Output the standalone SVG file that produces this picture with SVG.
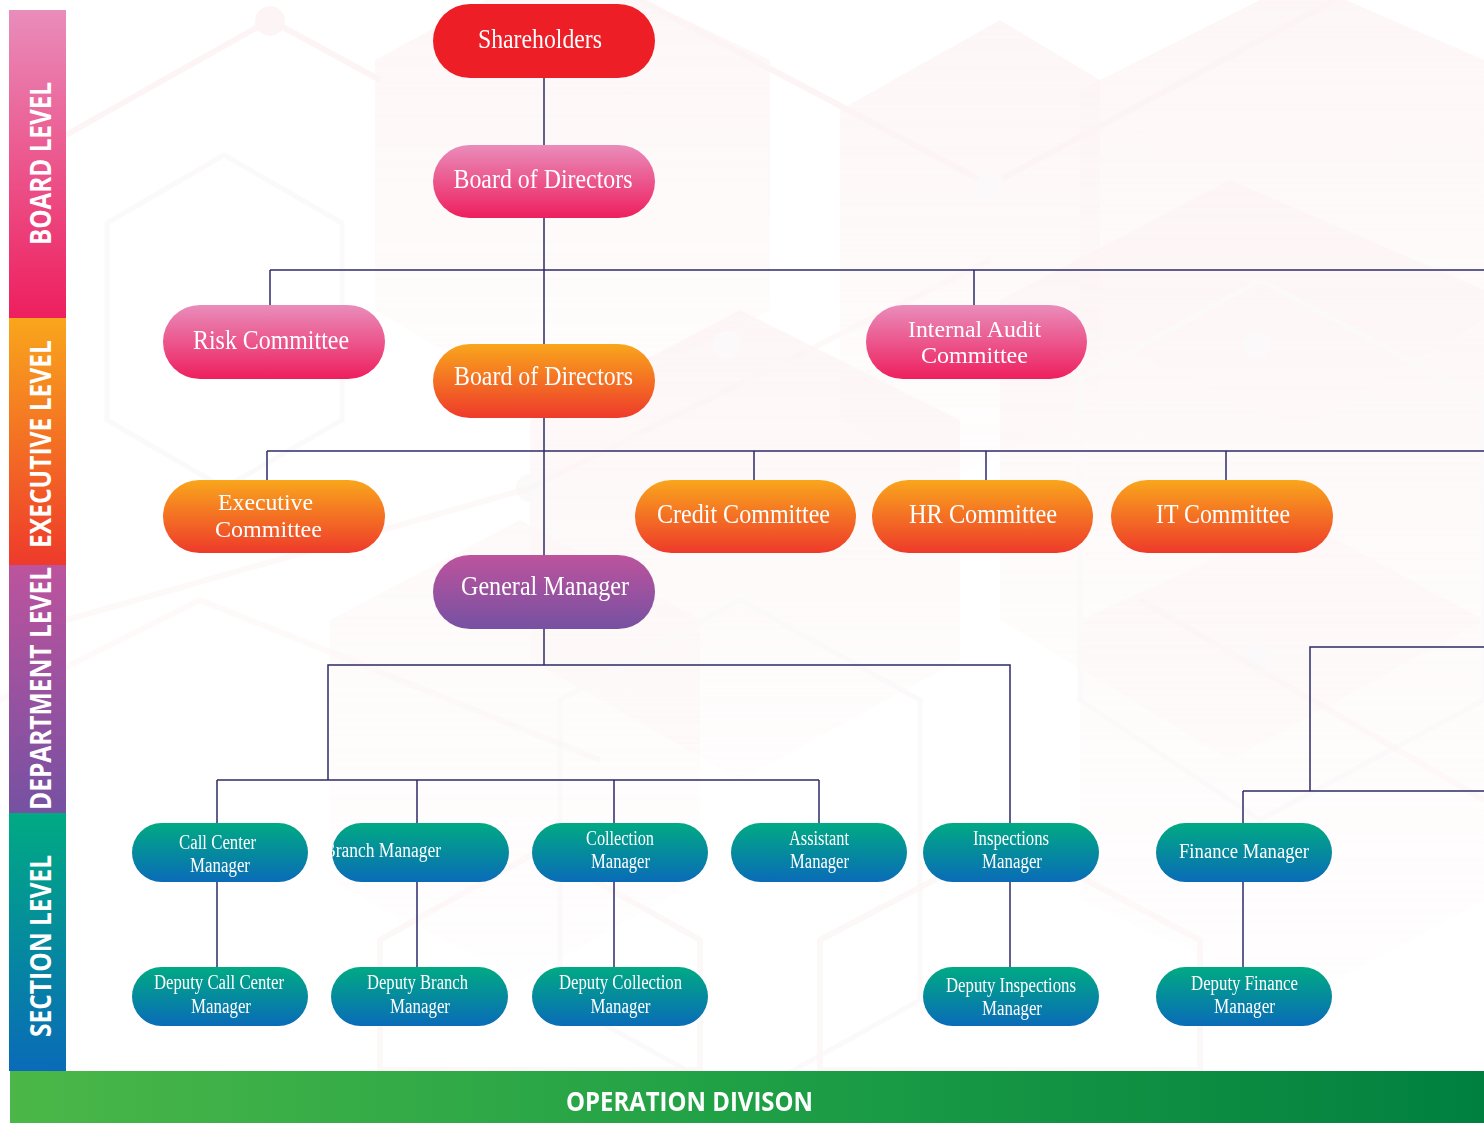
<svg xmlns="http://www.w3.org/2000/svg" width="1484" height="1123" viewBox="0 0 1484 1123">
<defs>
<linearGradient id="gPink" x1="0" y1="0" x2="0" y2="1"><stop offset="0" stop-color="#E98DBB"/><stop offset="1" stop-color="#EE1F5E"/></linearGradient>
<linearGradient id="gOrange" x1="0" y1="0" x2="0" y2="1"><stop offset="0" stop-color="#F9A61C"/><stop offset="1" stop-color="#EE3A2B"/></linearGradient>
<linearGradient id="gPurple" x1="0" y1="0" x2="0" y2="1"><stop offset="0" stop-color="#BD539D"/><stop offset="1" stop-color="#7651A2"/></linearGradient>
<linearGradient id="gTeal" x1="0" y1="0" x2="0" y2="1"><stop offset="0" stop-color="#00AA83"/><stop offset="1" stop-color="#0A6BB8"/></linearGradient>
<linearGradient id="gRed" x1="0" y1="0" x2="0" y2="1"><stop offset="0" stop-color="#EE1E26"/><stop offset="1" stop-color="#EE1E26"/></linearGradient>
<linearGradient id="gGreen" x1="0" y1="0" x2="1" y2="0"><stop offset="0" stop-color="#4BB748"/><stop offset="0.5" stop-color="#1FA046"/><stop offset="1" stop-color="#00803F"/></linearGradient>
<linearGradient id="gBgPink" x1="0" y1="0" x2="0" y2="1"><stop offset="0" stop-color="#FCEDED" stop-opacity="0.9"/><stop offset="1" stop-color="#FCEDED" stop-opacity="0.2"/></linearGradient>
<clipPath id="clipBranch"><rect x="332" y="823" width="177" height="59" rx="29.5"/></clipPath>
<style>
.conn line, .conn polyline{stroke:#2D2A6A;stroke-width:1.5;fill:none}
.t{font-family:"Liberation Serif","Times New Roman",serif;fill:#FFFFFF;text-anchor:middle}
.tl{font-size:27px}
.t2{font-size:24px}
.ts{font-size:20px}
.lvl{font-family:"Open Sans","DejaVu Sans",sans-serif;font-weight:700;fill:#FFFFFF;font-size:29px;text-anchor:middle}
.bgl{fill:none;stroke:#FBEDED;stroke-width:6}
.bgg{fill:none;stroke:#F7F5F5;stroke-width:5}
.bgf{fill:url(#gBgPink)}
</style>
</defs>

<rect x="0" y="0" width="1484" height="1123" fill="#FFFFFF"/>

<g id="background" opacity="0.55">
<polygon class="bgf" points="375,60 560,-40 770,60 770,310 560,420 375,310"/>
<polygon class="bgf" points="840,110 1000,20 1100,80 1100,400 950,480 840,420"/>
<polygon class="bgf" points="1080,90 1300,-20 1484,60 1484,320 1300,430 1080,330"/>
<polygon class="bgf" points="530,420 740,310 960,420 960,660 740,780 530,660"/>
<polygon class="bgf" points="1000,300 1230,180 1484,290 1484,620 1230,760 1000,620"/>
<polygon class="bgf" points="330,620 520,520 700,620 700,880 520,980 330,880" opacity="0.6"/>
<polygon class="bgf" points="1080,620 1300,520 1484,620 1484,900 1300,1000 1080,900" opacity="0.6"/>
<polyline class="bgl" points="66,135 270,20 380,80"/>
<circle cx="270" cy="21" r="15" fill="#FBEDED"/>
<polygon class="bgg" points="107,223 224,155 342,223 342,420 224,488 107,420"/>
<polyline class="bgl" points="640,0 990,185 1484,-80"/>
<circle cx="990" cy="185" r="14" fill="#F8F4F4"/>
<polygon class="bgg" points="560,700 740,600 920,700 920,1000 740,1100 560,1000"/>
<polygon class="bgg" points="1080,380 1260,280 1484,400 1484,700 1260,820 1080,700"/>
<circle cx="727" cy="345" r="14" fill="#F7F4F4"/>
<circle cx="1257" cy="345" r="14" fill="#F7F4F4"/>
<circle cx="1258" cy="657" r="14" fill="#F7F4F4"/>
<circle cx="530" cy="488" r="14" fill="#F8F4F4"/>
<polyline class="bgl" points="66,620 530,488 990,260" opacity="0.6"/>
<polygon class="bgl" points="380,940 540,850 700,940 700,1070 380,1070" opacity="0.7"/>
<polygon class="bgl" points="820,940 1010,840 1200,940 1200,1070 820,1070" opacity="0.7"/>
<polyline class="bgl" points="1140,600 1484,800" opacity="0.6"/>
<polyline class="bgl" points="0,700 200,600 600,760" opacity="0.5"/>
</g>

<g id="level-bar">
<rect x="9" y="10" width="57" height="308" fill="url(#gPink)"/>
<rect x="9" y="318" width="57" height="247" fill="url(#gOrange)"/>
<rect x="9" y="565" width="57" height="248" fill="url(#gPurple)"/>
<rect x="9" y="813" width="57" height="258" fill="url(#gTeal)"/>
<text class="lvl" transform="translate(51,163.5) rotate(-90)" x="0" y="0" textLength="163" lengthAdjust="spacingAndGlyphs">BOARD LEVEL</text>
<text class="lvl" transform="translate(51,444) rotate(-90)" x="0" y="0" textLength="208" lengthAdjust="spacingAndGlyphs">EXECUTIVE LEVEL</text>
<text class="lvl" transform="translate(51,688.5) rotate(-90)" x="0" y="0" textLength="243" lengthAdjust="spacingAndGlyphs">DEPARTMENT LEVEL</text>
<text class="lvl" transform="translate(51,946) rotate(-90)" x="0" y="0" textLength="182" lengthAdjust="spacingAndGlyphs">SECTION LEVEL</text>
</g>

<g id="operation-bar">
<rect x="10" y="1071" width="1474" height="52" fill="url(#gGreen)"/>
<text class="lvl" x="689.5" y="1111" style="font-size:27px" textLength="247" lengthAdjust="spacingAndGlyphs">OPERATION DIVISON</text>
</g>

<g id="connectors" class="conn">
<line x1="544" y1="78" x2="544" y2="145"/>
<line x1="544" y1="218" x2="544" y2="344"/>
<line x1="270" y1="270" x2="1484" y2="270"/>
<line x1="270" y1="270" x2="270" y2="305"/>
<line x1="974" y1="270" x2="974" y2="305"/>
<line x1="544" y1="418" x2="544" y2="555"/>
<line x1="267" y1="451" x2="1484" y2="451"/>
<line x1="267" y1="451" x2="267" y2="480"/>
<line x1="754" y1="451" x2="754" y2="480"/>
<line x1="986" y1="451" x2="986" y2="480"/>
<line x1="1226" y1="451" x2="1226" y2="480"/>
<line x1="544" y1="629" x2="544" y2="665"/>
<polyline points="328,780 328,665 1010,665 1010,823"/>
<line x1="217" y1="780" x2="819" y2="780"/>
<line x1="217" y1="780" x2="217" y2="823"/>
<line x1="417" y1="780" x2="417" y2="823"/>
<line x1="614" y1="780" x2="614" y2="823"/>
<line x1="819" y1="780" x2="819" y2="823"/>
<line x1="217" y1="882" x2="217" y2="967"/>
<line x1="417" y1="882" x2="417" y2="967"/>
<line x1="614" y1="882" x2="614" y2="967"/>
<line x1="1010" y1="882" x2="1010" y2="967"/>
<polyline points="1484,647 1310,647 1310,791"/>
<line x1="1243" y1="791" x2="1484" y2="791"/>
<line x1="1243" y1="791" x2="1243" y2="823"/>
<line x1="1243" y1="882" x2="1243" y2="967"/>
</g>

<g id="node-shareholders">
<rect x="433" y="4" width="222" height="74" rx="37" fill="url(#gRed)"/>
<text class="t tl" x="540" y="48" textLength="124" lengthAdjust="spacingAndGlyphs">Shareholders</text>
</g>
<g id="node-board-of-directors-1">
<rect x="433" y="145" width="222" height="73" rx="36.5" fill="url(#gPink)"/>
<text class="t tl" x="543" y="188" textLength="179" lengthAdjust="spacingAndGlyphs">Board of Directors</text>
</g>
<g id="node-risk-committee">
<rect x="163" y="305" width="222" height="74" rx="37" fill="url(#gPink)"/>
<text class="t tl" x="271" y="349" textLength="156" lengthAdjust="spacingAndGlyphs">Risk Committee</text>
</g>
<g id="node-internal-audit-committee">
<rect x="866" y="305" width="221" height="74" rx="37" fill="url(#gPink)"/>
<text class="t t2" x="974.5" y="337" textLength="133" lengthAdjust="spacingAndGlyphs">Internal Audit</text>
<text class="t t2" x="974.5" y="363" textLength="107" lengthAdjust="spacingAndGlyphs">Committee</text>
</g>
<g id="node-board-of-directors-2">
<rect x="433" y="344" width="222" height="74" rx="37" fill="url(#gOrange)"/>
<text class="t tl" x="543.5" y="385" textLength="179" lengthAdjust="spacingAndGlyphs">Board of Directors</text>
</g>
<g id="node-executive-committee">
<rect x="163" y="480" width="222" height="73" rx="36.5" fill="url(#gOrange)"/>
<text class="t t2" x="265.5" y="510" textLength="95" lengthAdjust="spacingAndGlyphs">Executive</text>
<text class="t t2" x="268.5" y="537" textLength="107" lengthAdjust="spacingAndGlyphs">Committee</text>
</g>
<g id="node-credit-committee">
<rect x="635" y="480" width="221" height="73" rx="36.5" fill="url(#gOrange)"/>
<text class="t tl" x="743.5" y="523" textLength="173" lengthAdjust="spacingAndGlyphs">Credit Committee</text>
</g>
<g id="node-hr-committee">
<rect x="872" y="480" width="221" height="73" rx="36.5" fill="url(#gOrange)"/>
<text class="t tl" x="983" y="523" textLength="148" lengthAdjust="spacingAndGlyphs">HR Committee</text>
</g>
<g id="node-it-committee">
<rect x="1111" y="480" width="222" height="73" rx="36.5" fill="url(#gOrange)"/>
<text class="t tl" x="1223" y="523" textLength="134" lengthAdjust="spacingAndGlyphs">IT Committee</text>
</g>
<g id="node-general-manager">
<rect x="433" y="555" width="222" height="74" rx="37" fill="url(#gPurple)"/>
<text class="t tl" x="545" y="595" textLength="168" lengthAdjust="spacingAndGlyphs">General Manager</text>
</g>

<g id="node-call-center-manager">
<rect x="132" y="823" width="176" height="59" rx="29.5" fill="url(#gTeal)"/>
<text class="t ts" x="217.5" y="849" textLength="77" lengthAdjust="spacingAndGlyphs">Call Center</text>
<text class="t ts" x="220" y="872" textLength="60" lengthAdjust="spacingAndGlyphs">Manager</text>
</g>
<g id="node-branch-manager">
<rect x="332" y="823" width="177" height="59" rx="29.5" fill="url(#gTeal)"/>
<text class="t ts" x="382.5" y="857" textLength="117" lengthAdjust="spacingAndGlyphs" clip-path="url(#clipBranch)">Branch Manager</text>
</g>
<g id="node-collection-manager">
<rect x="532" y="823" width="176" height="59" rx="29.5" fill="url(#gTeal)"/>
<text class="t ts" x="620" y="845" textLength="68" lengthAdjust="spacingAndGlyphs">Collection</text>
<text class="t ts" x="620.5" y="868" textLength="59" lengthAdjust="spacingAndGlyphs">Manager</text>
</g>
<g id="node-assistant-manager">
<rect x="731" y="823" width="176" height="59" rx="29.5" fill="url(#gTeal)"/>
<text class="t ts" x="819" y="845" textLength="60" lengthAdjust="spacingAndGlyphs">Assistant</text>
<text class="t ts" x="819.5" y="868" textLength="59" lengthAdjust="spacingAndGlyphs">Manager</text>
</g>
<g id="node-inspections-manager">
<rect x="923" y="823" width="176" height="59" rx="29.5" fill="url(#gTeal)"/>
<text class="t ts" x="1011" y="845" textLength="76" lengthAdjust="spacingAndGlyphs">Inspections</text>
<text class="t ts" x="1012" y="868" textLength="60" lengthAdjust="spacingAndGlyphs">Manager</text>
</g>
<g id="node-finance-manager">
<rect x="1156" y="823" width="176" height="59" rx="29.5" fill="url(#gTeal)"/>
<text class="t ts" x="1244" y="858" textLength="130" lengthAdjust="spacingAndGlyphs">Finance Manager</text>
</g>

<g id="node-deputy-call-center-manager">
<rect x="132" y="967" width="176" height="59" rx="29.5" fill="url(#gTeal)"/>
<text class="t ts" x="219" y="989" textLength="130" lengthAdjust="spacingAndGlyphs">Deputy Call Center</text>
<text class="t ts" x="221" y="1013" textLength="60" lengthAdjust="spacingAndGlyphs">Manager</text>
</g>
<g id="node-deputy-branch-manager">
<rect x="331" y="967" width="177" height="59" rx="29.5" fill="url(#gTeal)"/>
<text class="t ts" x="417.5" y="989" textLength="101" lengthAdjust="spacingAndGlyphs">Deputy Branch</text>
<text class="t ts" x="420" y="1013" textLength="60" lengthAdjust="spacingAndGlyphs">Manager</text>
</g>
<g id="node-deputy-collection-manager">
<rect x="532" y="967" width="176" height="59" rx="29.5" fill="url(#gTeal)"/>
<text class="t ts" x="620.5" y="989" textLength="123" lengthAdjust="spacingAndGlyphs">Deputy Collection</text>
<text class="t ts" x="620.5" y="1013" textLength="60" lengthAdjust="spacingAndGlyphs">Manager</text>
</g>
<g id="node-deputy-inspections-manager">
<rect x="923" y="967" width="176" height="59" rx="29.5" fill="url(#gTeal)"/>
<text class="t ts" x="1011" y="992" textLength="130" lengthAdjust="spacingAndGlyphs">Deputy Inspections</text>
<text class="t ts" x="1012" y="1015" textLength="60" lengthAdjust="spacingAndGlyphs">Manager</text>
</g>
<g id="node-deputy-finance-manager">
<rect x="1156" y="967" width="176" height="59" rx="29.5" fill="url(#gTeal)"/>
<text class="t ts" x="1244.5" y="990" textLength="107" lengthAdjust="spacingAndGlyphs">Deputy Finance</text>
<text class="t ts" x="1244.5" y="1013" textLength="61" lengthAdjust="spacingAndGlyphs">Manager</text>
</g>
</svg>
